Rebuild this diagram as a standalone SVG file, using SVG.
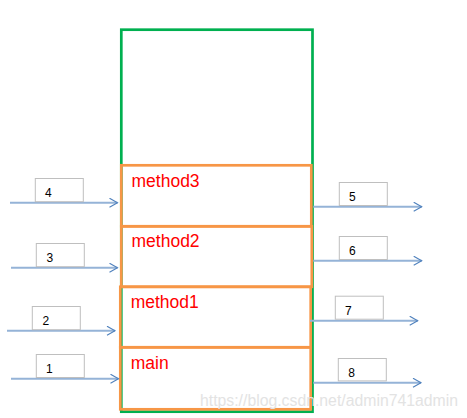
<svg xmlns="http://www.w3.org/2000/svg" width="467" height="418" viewBox="0 0 467 418">
<style>
.stack{fill:none;stroke:#00b050;stroke-width:2.7}
.frame{fill:none;stroke:#f79646;stroke-width:2.7}
.mlabel{font-family:"Liberation Sans",Arial,sans-serif;font-size:17.5px;fill:#ff0000}
.nbox{fill:#ffffff;stroke:#bfbfbf;stroke-width:1}
.nlabel{font-family:"Liberation Sans",Arial,sans-serif;font-size:12px;fill:#000000}
.arrow{fill:none;stroke:#95b3d7;stroke-width:2}
.wm{font-family:"Liberation Sans",Arial,sans-serif;font-size:16px;fill:#e3e3e3}
</style>
<defs>
<marker id="head" markerUnits="userSpaceOnUse" markerWidth="12" markerHeight="12" viewBox="0 0 12 12" refX="9" refY="5" orient="auto">
<path d="M1,0.5 L9,5 L1,9.5" fill="none" stroke="#4f81bd" stroke-width="1.1"/>
</marker>
</defs>
<rect width="467" height="418" fill="#ffffff"/>
<g id="stack">
<rect class="stack" x="121.3" y="29.7" width="191.2" height="382"/>
</g>
<g id="method3">
<rect class="frame" x="121.3" y="165.3" width="190" height="61"/>
<text class="mlabel" x="131.5" y="187">method3</text>
</g>
<g id="method2">
<rect class="frame" x="121.3" y="226.3" width="190.5" height="60.5"/>
<text class="mlabel" x="131.5" y="247">method2</text>
</g>
<g id="method1">
<rect class="frame" x="120.3" y="286.8" width="190.4" height="60.5"/>
<text class="mlabel" x="130.7" y="308.3">method1</text>
</g>
<g id="main">
<rect class="frame" x="120.3" y="347.3" width="190.4" height="62"/>
<text class="mlabel" x="130.7" y="369.3">main</text>
</g>
<g id="connectors">
<line class="arrow" x1="10" y1="202.7" x2="117.5" y2="202.7" marker-end="url(#head)"/>
<line class="arrow" x1="11" y1="267.7" x2="117.5" y2="267.7" marker-end="url(#head)"/>
<line class="arrow" x1="7" y1="330.7" x2="115" y2="330.7" marker-end="url(#head)"/>
<line class="arrow" x1="11" y1="378.7" x2="118.5" y2="378.7" marker-end="url(#head)"/>
<line class="arrow" x1="313.3" y1="206.7" x2="421.7" y2="206.7" marker-end="url(#head)"/>
<line class="arrow" x1="313.3" y1="260.7" x2="421.7" y2="260.7" marker-end="url(#head)"/>
<line class="arrow" x1="310" y1="320.7" x2="417.7" y2="320.7" marker-end="url(#head)"/>
<line class="arrow" x1="313.3" y1="382.7" x2="421" y2="382.7" marker-end="url(#head)"/>
</g>
<g id="n4">
<rect class="nbox" x="35.3" y="178.5" width="48" height="23.2"/>
<text class="nlabel" x="45" y="197.3">4</text>
</g>
<g id="n3">
<rect class="nbox" x="36.3" y="243.5" width="48" height="23.2"/>
<text class="nlabel" x="46.5" y="261.7">3</text>
</g>
<g id="n2">
<rect class="nbox" x="32.3" y="306.5" width="48" height="23.2"/>
<text class="nlabel" x="42.5" y="325.3">2</text>
</g>
<g id="n1">
<rect class="nbox" x="36.3" y="354.5" width="48" height="23"/>
<text class="nlabel" x="46" y="373.3">1</text>
</g>
<g id="n5">
<rect class="nbox" x="339.3" y="182.5" width="48" height="23"/>
<text class="nlabel" x="349" y="200.7">5</text>
</g>
<g id="n6">
<rect class="nbox" x="339.3" y="236.5" width="48" height="23"/>
<text class="nlabel" x="349" y="255">6</text>
</g>
<g id="n7">
<rect class="nbox" x="335.3" y="296.2" width="48" height="23"/>
<text class="nlabel" x="345" y="314.7">7</text>
</g>
<g id="n8">
<rect class="nbox" x="338.3" y="358.5" width="48" height="22.4"/>
<text class="nlabel" x="348.3" y="376.7">8</text>
</g>
<text class="wm" x="200" y="406" textLength="258" lengthAdjust="spacingAndGlyphs">https://blog.csdn.net/admin741admin</text>
</svg>
